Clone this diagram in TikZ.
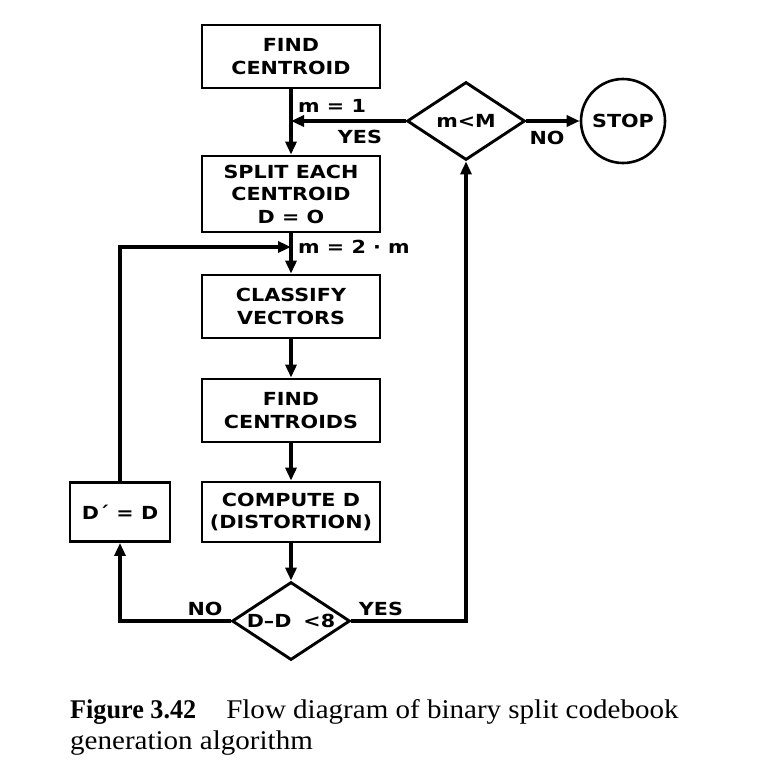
\documentclass[tikz,border=0pt]{standalone}
\usepackage{fontspec}
\setmainfont{Liberation Serif}
\newfontfamily\labfont{DejaVu Sans}[FakeStretch=1.15]
\newfontfamily\capreg{Liberation Serif}[FakeStretch=1.075]
\newfontfamily\capbold{Liberation Serif}[FakeStretch=0.97]
\usetikzlibrary{arrows.meta,shapes.geometric}
\begin{document}
\begin{tikzpicture}[x=1pt,y=-1pt,
  every node/.style={font=\labfont\bfseries\fontsize{18}{22.5}\selectfont, inner sep=0pt},
  stepbox/.style={draw, line width=2.9pt, minimum width=178pt, align=center},
  decision/.style={draw, diamond, line width=2.9pt, aspect=1.5},
  stopnode/.style={draw, circle, line width=2.6pt, minimum size=84pt},
  flow/.style={line width=3.3pt, -{Triangle[length=13pt,width=11pt]}},
  lbl/.style={},
  captext/.style={font=\capreg\fontsize{27}{32}\selectfont, anchor=base west}
]
\useasboundingbox (0,0) rectangle (775,769);
\fill[white] (0,0) rectangle (775,769);

% boxes
\node[stepbox, minimum height=63pt] (fc) at (291,56.5) {FIND\\CENTROID};
\node[stepbox, minimum height=76pt] (split) at (291,194) {SPLIT EACH\\CENTROID\\D = O};
\node[stepbox, minimum height=63pt] (cls) at (291,306.5) {CLASSIFY\\VECTORS};
\node[stepbox, minimum height=63pt] (fcs) at (291,410.5) {FIND\\CENTROIDS};
\node[stepbox, minimum height=60pt] (comp) at (291,512) {COMPUTE D\\(DISTORTION)};
\node[stepbox, minimum width=100pt, minimum height=59pt] (dp) at (120,512) {D\textasciiacute\ = D};

% decisions
\node[decision, minimum width=118pt, minimum height=78pt] (d1) at (466,121) {\makebox[0pt]{m<M}};
\node[decision, minimum width=118pt, minimum height=78pt] (d2) at (291,621) {\makebox[0pt]{D–D\hspace{12pt}<8}};
\node[stopnode] (stop) at (623,121) {STOP};

% junctions
\coordinate (j1) at (291,121);
\coordinate (j2) at (291,247);

% connectors
\draw[flow] (fc.south) -- (split.north);
\draw[flow] (d1.west) -- (j1);
\draw[flow] (d1.east) -- (stop.west);
\draw[flow] (split.south) -- (cls.north);
\draw[flow] (dp.north) |- (j2);
\draw[flow] (cls.south) -- (fcs.north);
\draw[flow] (fcs.south) -- (comp.north);
\draw[flow] (comp.south) -- (d2.north);
\draw[flow] (d2.east) -| (d1.south);
\draw[flow] (d2.west) -| (dp.south);

% labels
\node[lbl, anchor=west] (l1) at (298,106) {m = 1};
\node[lbl] (l2) at (360,137) {YES};
\node[lbl] (l3) at (547,138) {NO};
\node[lbl, anchor=west] (l4) at (298,247) {m = 2 · m};
\node[lbl] (l5) at (205,609) {NO};
\node[lbl] (l6) at (381,609) {YES};

% caption
\node[captext] (c1) at (70,718) {{\capbold\bfseries Figure 3.42}\hspace{30pt}Flow diagram of binary split codebook};
\node[captext] (c2) at (70,749) {generation algorithm};
\end{tikzpicture}
\end{document}
